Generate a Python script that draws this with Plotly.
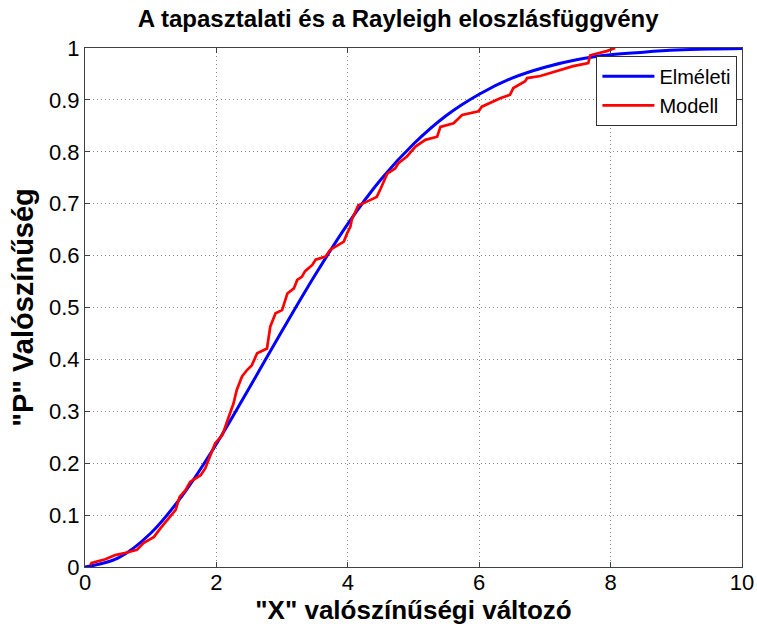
import plotly.graph_objects as go

# Theoretical (Rayleigh) CDF
elm_x = [0, 0.5, 1, 1.5, 2, 2.5, 3, 3.5, 4, 4.5, 5, 5.5, 6, 6.5, 7, 7.5, 8, 8.5, 9, 9.5, 10]
elm_y = [0, 0.017, 0.065, 0.141, 0.237, 0.345, 0.455, 0.562, 0.661, 0.746, 0.815,
         0.870, 0.911, 0.942, 0.963, 0.978, 0.987, 0.992, 0.996, 0.998, 0.999]

mod_x = [0.08, 0.10, 0.31, 0.46, 0.64, 0.79, 0.89, 1.05, 1.15, 1.25, 1.38, 1.44, 1.53, 1.60,
         1.76, 1.83, 1.91, 1.98, 2.09, 2.16, 2.19, 2.26, 2.31, 2.39, 2.47, 2.54, 2.62, 2.77,
         2.82, 2.90, 3.00, 3.08, 3.18, 3.23, 3.30, 3.35, 3.46, 3.51, 3.66, 3.73, 3.86, 3.94,
         3.99, 4.04, 4.06, 4.16, 4.29, 4.44, 4.49, 4.60, 4.72, 4.77, 4.90, 5.03, 5.18, 5.36,
         5.41, 5.61, 5.74, 5.99, 6.04, 6.32, 6.47, 6.52, 6.70, 6.73, 6.93, 7.18, 7.43, 7.66,
         7.69, 7.94, 8.07]
mod_y = [0.004, 0.008, 0.015, 0.023, 0.028, 0.033, 0.046, 0.058, 0.075, 0.090, 0.110, 0.135,
         0.148, 0.164, 0.177, 0.190, 0.216, 0.238, 0.254, 0.277, 0.290, 0.315, 0.341, 0.367,
         0.380, 0.389, 0.412, 0.421, 0.463, 0.489, 0.495, 0.527, 0.537, 0.553, 0.559, 0.570,
         0.582, 0.592, 0.598, 0.611, 0.620, 0.627, 0.643, 0.656, 0.669, 0.697, 0.704, 0.713,
         0.726, 0.758, 0.768, 0.778, 0.791, 0.810, 0.823, 0.829, 0.848, 0.855, 0.871, 0.878,
         0.887, 0.903, 0.910, 0.923, 0.936, 0.942, 0.946, 0.955, 0.965, 0.971, 0.986, 0.994,
         1.0]

x_ticks = [0, 2, 4, 6, 8, 10]
y_ticks = [0, 0.1, 0.2, 0.3, 0.4, 0.5, 0.6, 0.7, 0.8, 0.9, 1]
y_tick_text = ["0", "0.1", "0.2", "0.3", "0.4", "0.5", "0.6", "0.7", "0.8", "0.9", "1"]

FONT = "Liberation Sans, Arial, sans-serif"

fig = go.Figure()
fig.add_trace(go.Scatter(x=elm_x, y=elm_y, mode="lines", name="Elméleti",
                         line=dict(color="#0000ff", width=3, shape="spline")))
fig.add_trace(go.Scatter(x=mod_x, y=mod_y, mode="lines", name="Modell",
                         line=dict(color="#ff0000", width=2.7)))

axis_common = dict(
    showline=True, linecolor="#404040", linewidth=1, mirror="ticks",
    ticks="inside", ticklen=5, tickcolor="#404040",
    showgrid=True, gridcolor="#8a8a8a", griddash="1px,3px", gridwidth=1,
    zeroline=False, automargin=False,
    tickfont=dict(family=FONT, size=22, color="black"),
)

fig.update_layout(
    width=757, height=626, autosize=False,
    paper_bgcolor="white", plot_bgcolor="white",
    margin=dict(l=85, r=15, t=48, b=59),
    title=dict(text="<b>A tapasztalati és a Rayleigh eloszlásfüggvény</b>",
               font=dict(family=FONT, size=24, color="black"),
               x=0.526, xanchor="center", y=0.97, yanchor="middle"),
    xaxis=dict(range=[0, 10], tickvals=x_ticks, ticklabelstandoff=-4, **axis_common,
               title=dict(text="<b>\"X\" valószínűségi változó</b>",
                          font=dict(family=FONT, size=26, color="black"), standoff=5)),
    yaxis=dict(range=[0, 1], tickvals=y_ticks, ticktext=y_tick_text, **axis_common,
               title=dict(text="<b>\"P\" Valószínűség</b>",
                          font=dict(family=FONT, size=29, color="black"), standoff=6)),
    legend=dict(x=0.993, xanchor="right", y=0.985, yanchor="top",
                bgcolor="white", bordercolor="#303030", borderwidth=1,
                font=dict(family=FONT, size=20, color="black"),
                tracegroupgap=0, itemwidth=52),
    showlegend=True,
)

fig.write_html("out.html", post_script="document.body.style.margin='0';",
               config={"displayModeBar": False})
